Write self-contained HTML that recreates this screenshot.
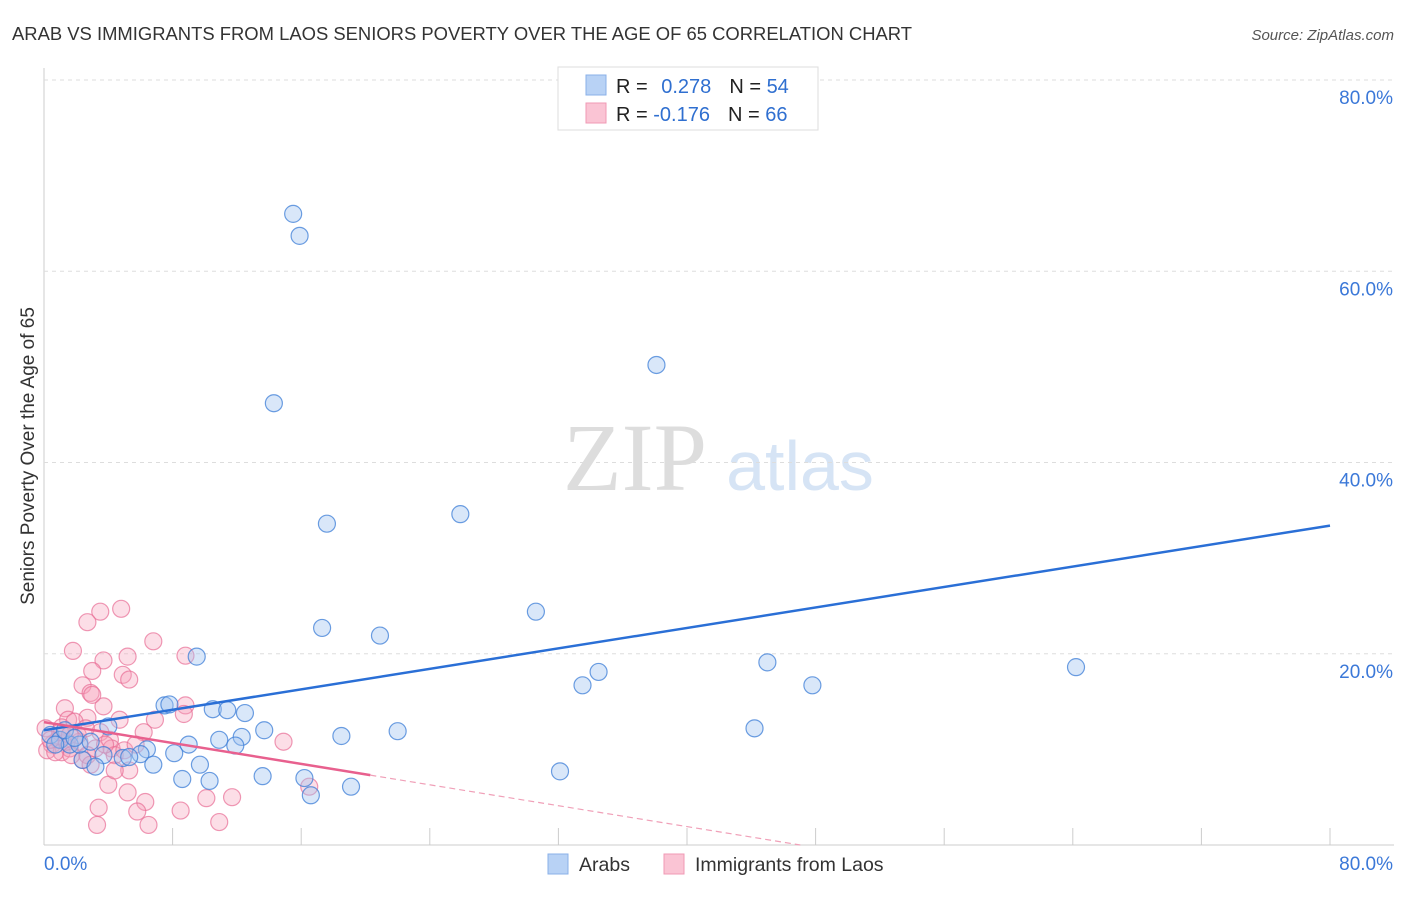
<!DOCTYPE html>
<html><head><meta charset="utf-8"><style>
body{margin:0;background:#fff;font-family:"Liberation Sans",sans-serif}
</style></head><body>
<svg id="c" width="1406" height="892" xmlns="http://www.w3.org/2000/svg" style="font-family:'Liberation Sans',sans-serif">
<text x="12" y="40" font-size="18" fill="#333" textLength="900" lengthAdjust="spacingAndGlyphs">ARAB VS IMMIGRANTS FROM LAOS SENIORS POVERTY OVER THE AGE OF 65 CORRELATION CHART</text>
<text x="1394" y="40" font-size="15" fill="#555" font-style="italic" text-anchor="end">Source: ZipAtlas.com</text>
<text x="635" y="490" font-size="96" fill="#ddd" font-family="Liberation Serif" text-anchor="middle">ZIP</text>
<text x="800" y="490" font-size="70" fill="#d6e4f5" text-anchor="middle">atlas</text>
<g id="grid"></g><g id="pts"></g><g id="lines"></g>
<text transform="translate(34,456) rotate(-90)" font-size="19" fill="#333" text-anchor="middle">Seniors Poverty Over the Age of 65</text>
<g>
<rect x="558" y="67" width="260" height="63" fill="#fff" stroke="#ddd"/>
<rect x="586" y="75" width="20" height="20" fill="#b8d2f5" stroke="#8ab0e8"/>
<rect x="586" y="103" width="20" height="20" fill="#fac4d4" stroke="#f09ab5"/>
<text x="616" y="93" font-size="20" fill="#222">R = <tspan fill="#2f6fd0" dx="8">0.278</tspan><tspan dx="18" fill="#222">N = </tspan><tspan fill="#2f6fd0">54</tspan></text>
<text x="616" y="121" font-size="20" fill="#222">R = <tspan fill="#2f6fd0">-0.176</tspan><tspan dx="18" fill="#222">N = </tspan><tspan fill="#2f6fd0">66</tspan></text>
</g>
<g>
<rect x="548" y="854" width="20" height="20" fill="#b8d2f5" stroke="#8ab0e8"/>
<text x="579" y="871" font-size="19.5" fill="#333">Arabs</text>
<rect x="664" y="854" width="20" height="20" fill="#fac4d4" stroke="#f09ab5"/>
<text x="695" y="871" font-size="19.5" fill="#333">Immigrants from Laos</text>
</g>
</svg>
<script>
const xTicks=[0,8,16,24,32,40,48,56,64,72,80];
const yTicks=[20,40,60,80];
const blueX=[15.5,15.9,14.3,38.1,17.6,25.9,30.6,17.3,20.9,9.5,45.0,64.2,34.5,33.5,47.8,7.5,7.8,10.5,11.4,12.5,44.2,13.7,4.0,22.0,18.5,10.9,12.3,11.9,9.0,6.4,8.1,3.7,4.9,6.0,5.3,9.7,6.8,2.4,3.2,13.6,8.6,10.3,16.2,19.1,16.6,32.1,0.4,1.0,1.6,0.7,2.2,1.3,2.9,1.9];
const blueY=[66.0,63.7,46.2,50.2,33.6,34.6,24.4,22.7,21.9,19.7,19.1,18.6,18.1,16.7,16.7,14.6,14.7,14.2,14.1,13.8,12.2,12.0,12.4,11.9,11.4,11.0,11.3,10.4,10.5,10.0,9.6,9.4,9.1,9.5,9.2,8.4,8.4,8.9,8.2,7.2,6.9,6.7,7.0,6.1,5.2,7.7,11.5,11.0,10.5,10.5,10.5,12.0,10.8,11.2];
const pinkX=[4.8,3.5,2.7,6.8,1.8,5.2,8.8,3.7,3.0,4.9,5.3,2.4,2.9,3.7,1.3,3.0,8.8,6.9,8.7,2.7,1.5,6.2,1.1,1.9,0.1,3.5,4.1,14.9,0.5,0.9,0.2,1.1,1.6,2.2,4.2,4.4,2.4,5.3,4.0,5.2,6.3,3.4,5.8,8.5,10.1,11.7,16.5,3.3,6.5,10.9,0.7,1.4,1.7,2.1,3.2,2.7,1.0,0.4,2.6,5.0,3.8,1.6,4.7,5.7,2.9,4.4];
const pinkY=[24.7,24.4,23.3,21.3,20.3,19.7,19.8,19.3,18.2,17.8,17.3,16.7,15.9,14.5,14.3,15.7,14.6,13.1,13.7,13.3,13.1,11.8,12.3,12.9,12.2,11.8,11.0,10.8,10.5,11.0,9.9,9.7,10.1,10.8,10.1,9.4,8.9,7.8,6.3,5.5,4.5,3.9,3.5,3.6,4.9,5.0,6.1,2.1,2.1,2.4,9.7,10.8,9.4,11.5,10.1,9.4,11.8,11.0,12.2,9.9,10.5,11.5,13.1,10.5,8.4,7.8];
const blueFit=[12.0,33.4];
const pinkFit=[12.85,-9.0];
const pinkSolidEnd=20.3;
const NS='http://www.w3.org/2000/svg';
const X=v=>44+v*16.075, Y=v=>845-v*9.5625;
function mk(p,t,a){const e=document.createElementNS(NS,t);for(const k in a)e.setAttribute(k,a[k]);p.appendChild(e);return e;}
const g=document.getElementById('grid');
let ax=mk(g,'line',{x1:44,y1:68,x2:44,y2:845,stroke:'#ccc'});


let bx=mk(g,'line',{x1:44,y1:845,x2:1394,y2:845,stroke:'#ccc'});


yTicks.forEach(v=>{
 const l=mk(g,'line',{x1:44,y1:Y(v),x2:1394,y2:Y(v),stroke:'#ddd','stroke-dasharray':'4,4'});
 
 
 const t=mk(g,'text',{x:1393,y:Y(v)+24,'font-size':19,fill:'#3b78d8','text-anchor':'end'});t.textContent=v.toFixed(1)+'%';
 
 
});
xTicks.forEach((v,i)=>{
 const l=mk(g,'line',{x1:X(v),y1:828,x2:X(v),y2:845,stroke:'#ccc'});
 
 
});
[[0,'start',44],[80,'end',1393]].forEach(([v,a,px])=>{
 const t=mk(g,'text',{x:px,y:870,'font-size':19,fill:'#3b78d8','text-anchor':a});t.textContent=v.toFixed(1)+'%';
 
 
});
const pg=document.getElementById('pts');
pinkX.forEach((v,i)=>{const c=mk(pg,'circle',{cx:X(v),cy:Y(pinkY[i]),r:8.5,fill:'rgba(245,160,185,0.35)',stroke:'rgba(232,110,150,0.7)','stroke-width':1.2});
 
 });
blueX.forEach((v,i)=>{const c=mk(pg,'circle',{cx:X(v),cy:Y(blueY[i]),r:8.5,fill:'rgba(160,195,240,0.4)',stroke:'rgba(60,125,215,0.75)','stroke-width':1.2});
 
 });
const lg=document.getElementById('lines');
let bl=mk(lg,'line',{x1:X(0),y1:Y(blueFit[0]),x2:X(80),y2:Y(blueFit[1]),stroke:'#2a6fd6','stroke-width':2.5});


const pAt=x=>pinkFit[0]+(pinkFit[1]-pinkFit[0])*x/80;
let ps=mk(lg,'line',{x1:X(0),y1:Y(pAt(0)),x2:X(pinkSolidEnd),y2:Y(pAt(pinkSolidEnd)),stroke:'#e8608e','stroke-width':2.5});


const xz=-pinkFit[0]*80/(pinkFit[1]-pinkFit[0]);
let pd=mk(lg,'line',{x1:X(pinkSolidEnd),y1:Y(pAt(pinkSolidEnd)),x2:X(xz),y2:Y(0),stroke:'#f0a0b8','stroke-width':1.2,'stroke-dasharray':'6,4'});


</script>
</body></html>
